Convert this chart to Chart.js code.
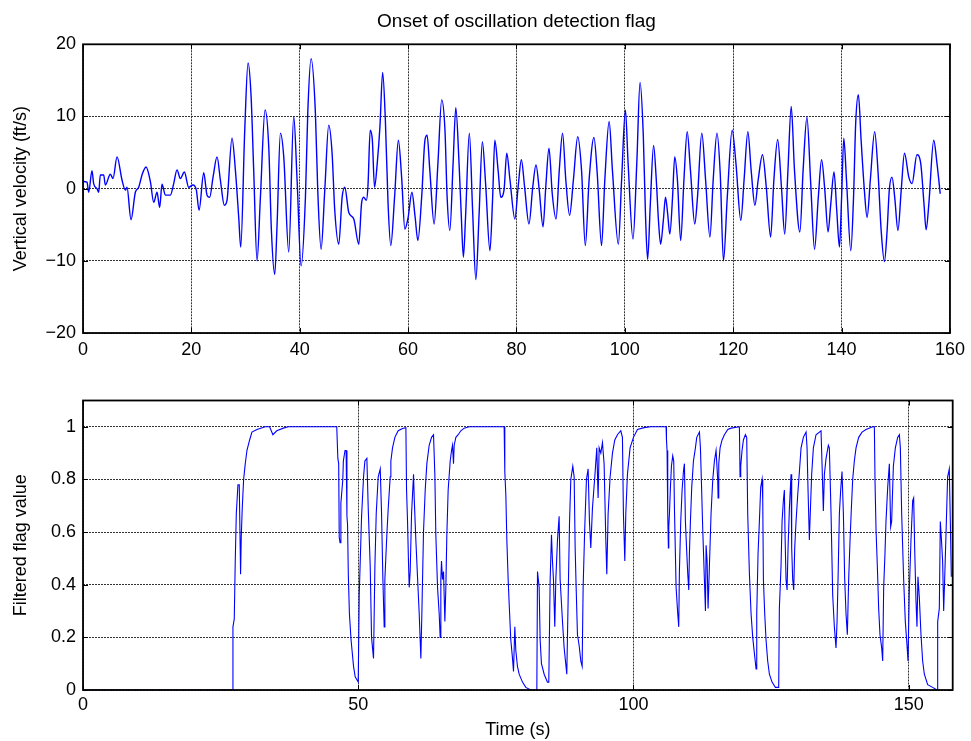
<!DOCTYPE html>
<html><head><meta charset="utf-8">
<script src="https://cdn.jsdelivr.net/npm/chart.js@4.4.0/dist/chart.umd.min.js"></script>
<style>
html,body{margin:0;padding:0;background:#fff;}
#wrap{position:relative;width:971px;height:741px;overflow:hidden;background:#fff;}
canvas{position:absolute;left:0;}
#c1{top:0;} #c2{top:370px;}
</style></head><body>
<div id="wrap"><canvas id="c1" width="971" height="370"></canvas><canvas id="c2" width="971" height="371"></canvas></div>
<script>
// ---------- data ----------
const chartTitle = 'Onset of oscillation detection flag';
const velocityAxisTitle = 'Vertical velocity (ft/s)';
const flagAxisTitle = 'Filtered flag value';
const timeAxisTitle = 'Time (s)';

const velXTicks = [0, 20, 40, 60, 80, 100, 120, 140, 160];
const velYTicks = [-20, -10, 0, 10, 20];
const velYLabels = ['\u221220', '\u221210', '0', '10', '20'];
const flagXTicks = [0, 50, 100, 150];
const flagYTicks = [0, 0.2, 0.4, 0.6, 0.8, 1];
const flagYLabels = ['0', '0.2', '0.4', '0.6', '0.8', '1'];

// [time (s), vertical velocity (ft/s)]
const velocitySamples = [[0,1.0],[0.74,0.9],[1.05,-0.5],[1.66,2.5],[1.97,0.7],[2.58,0.0],[2.89,-0.5],[3.2,1.9],[3.82,1.9],[4.12,0.5],[5.05,2.0],[5.54,1.4],[6.28,4.4],[7.2,1.2],[7.82,-0.2],[8.12,0.2],[8.86,-4.3],[9.66,-0.5],[10.28,0.2],[10.89,1.9],[11.63,3.0],[12.43,1.0],[13.05,-1.9],[13.66,-0.5],[14.15,-2.6],[14.58,0.6],[15.2,-0.9],[16.12,-0.9],[16.74,0.7],[17.35,2.6],[17.97,1.4],[18.71,2.3],[19.5,0.2],[20.3,0.5],[20.92,-0.2],[21.42,-3.0],[22.28,2.2],[22.89,-0.9],[23.38,-1.2],[24.0,1.6],[24.74,4.4],[25.35,1.2],[26.09,-2.3],[26.58,-1.6],[27.5,7.0],[28.12,2.6],[28.74,-4.0],[29.11,-8.1],[29.85,8.1],[30.46,17.4],[31.02,12.8],[31.5,2.6],[32.12,-10.0],[32.74,-1.2],[33.6,10.9],[34.28,5.8],[34.77,-5.8],[35.38,-11.9],[35.82,-4.9],[36.43,7.7],[37.05,4.4],[37.97,-8.8],[38.89,10.0],[39.51,1.2],[40.25,-10.7],[41.05,-1.2],[41.48,10.5],[42.09,18.0],[42.89,10.5],[43.32,-0.2],[43.94,-8.4],[44.62,-0.2],[45.35,8.8],[45.97,4.9],[46.46,-3.0],[47.2,-7.7],[47.82,-1.2],[48.31,0.2],[49.05,-3.3],[49.97,-4.2],[50.89,-7.7],[51.4,-2.1],[51.8,-1.2],[52.3,-1.6],[52.6,0.5],[53.0,8.1],[53.4,6.7],[53.8,0.2],[54.3,3.5],[54.8,8.6],[55.3,16.1],[55.8,9.5],[56.3,-2.1],[56.8,-7.9],[57.5,-1.2],[58.2,6.7],[58.8,1.6],[59.4,-5.6],[60.0,-4.0],[60.7,-0.5],[61.3,-4.0],[61.8,-7.2],[62.5,-1.2],[63.1,6.7],[63.5,7.4],[64.0,2.6],[64.8,-4.9],[65.5,3.5],[66.2,12.3],[66.8,8.1],[67.2,-1.2],[67.7,-5.8],[68.3,3.5],[68.8,11.2],[69.4,3.5],[69.8,-3.5],[70.2,-9.5],[70.6,-3.9],[71.3,7.7],[71.9,-3.0],[72.5,-12.6],[73.1,-3.5],[73.7,6.5],[74.3,0.7],[75.1,-8.6],[75.6,-1.2],[76.0,6.7],[76.6,2.6],[77.1,-1.2],[77.7,-0.2],[78.2,4.9],[78.8,1.2],[79.7,-4.2],[80.3,0.2],[80.9,4.0],[81.5,0.2],[82.3,-4.9],[83.0,0.2],[83.6,3.3],[84.2,-0.2],[84.9,-5.3],[85.4,0.2],[86.0,5.6],[86.6,-0.7],[87.3,-4.2],[87.9,2.6],[88.5,7.7],[89.1,1.2],[89.8,-3.7],[90.5,1.2],[91.3,7.2],[92.0,2.6],[92.7,-7.9],[93.4,1.2],[94.3,7.1],[94.9,2.1],[95.7,-7.9],[96.3,1.2],[97.1,9.3],[97.7,2.6],[98.8,-7.7],[99.4,1.2],[100.1,10.9],[100.6,3.5],[101.5,-7.0],[102.2,3.5],[102.8,14.7],[103.4,7.4],[103.8,-3.5],[104.2,-9.8],[104.7,-2.1],[105.3,6.0],[105.8,1.2],[106.2,-4.4],[106.6,-7.7],[107.1,-4.4],[107.5,-1.2],[107.9,-3.5],[108.3,-6.3],[108.8,-1.2],[109.2,4.4],[109.7,1.2],[110.3,-7.2],[110.9,1.2],[111.5,7.9],[112.1,2.6],[112.9,-4.9],[113.4,-1.2],[114.2,7.7],[114.9,1.2],[115.7,-6.7],[116.3,1.2],[117.0,7.7],[117.6,2.1],[118.2,-10.0],[118.9,-1.2],[119.8,8.1],[120.5,3.5],[121.4,-4.4],[122.0,1.2],[122.7,7.9],[123.3,2.6],[124.0,-2.3],[124.6,1.2],[125.4,4.7],[126.1,0.2],[126.9,-6.7],[127.5,1.2],[128.2,6.8],[128.9,0.2],[129.5,-6.3],[130.1,2.6],[130.7,11.4],[131.3,2.6],[132.3,-6.0],[132.9,2.6],[133.6,9.9],[134.3,0.7],[135.0,-8.4],[135.7,-1.2],[136.3,4.0],[136.9,-0.2],[137.5,-6.0],[138.0,-2.1],[138.6,2.3],[139.1,-3.0],[139.6,-8.1],[140.0,-1.2],[140.4,7.0],[140.9,1.2],[141.7,-8.6],[142.2,-1.2],[142.6,9.1],[143.1,13.0],[143.6,6.7],[144.2,-0.2],[144.7,-4.0],[145.3,1.2],[146.1,7.9],[146.7,2.6],[147.3,-5.8],[147.9,-10.1],[148.4,-5.8],[148.8,-0.2],[149.3,1.6],[149.8,-1.2],[150.4,-5.8],[151.0,-0.2],[151.6,4.9],[152.4,1.6],[153.0,0.7],[153.9,4.7],[154.6,3.5],[155.2,-2.1],[155.6,-5.7],[156.1,-2.1],[157.0,6.7],[157.6,3.5],[158.2,-0.7]];

// [time (s), filtered flag value]
const flagSamples = [[0,0],[27.2,0],[27.24,0.24],[27.48,0.27],[27.66,0.49],[27.85,0.67],[28.15,0.78],[28.39,0.78],[28.55,0.55],[28.63,0.44],[28.75,0.58],[28.93,0.69],[29.18,0.8],[29.48,0.86],[29.78,0.91],[30.27,0.95],[30.69,0.98],[31.6,0.99],[33.1,1.0],[33.9,1.0],[34.5,0.97],[35.2,0.985],[36.4,0.995],[37.3,1.0],[46.1,1.0],[46.3,0.88],[46.45,0.86],[46.55,0.58],[46.7,0.56],[46.85,0.71],[47.2,0.8],[47.3,0.87],[47.6,0.91],[47.8,0.91],[47.95,0.66],[48.06,0.63],[48.2,0.44],[48.4,0.29],[48.7,0.19],[49.15,0.09],[49.45,0.05],[50.0,0.03],[50.18,0.36],[50.61,0.66],[50.97,0.81],[51.21,0.87],[51.57,0.88],[51.82,0.69],[52.18,0.47],[52.42,0.2],[52.78,0.12],[53.03,0.47],[53.27,0.67],[53.63,0.81],[54.0,0.84],[54.24,0.67],[54.48,0.42],[54.72,0.24],[54.84,0.42],[55.2,0.59],[55.45,0.69],[55.81,0.81],[55.93,0.87],[56.23,0.92],[56.66,0.96],[57.26,0.985],[58.05,0.994],[58.66,0.997],[58.78,0.76],[58.96,0.64],[59.14,0.48],[59.26,0.39],[59.44,0.45],[59.69,0.67],[60.05,0.82],[60.17,0.73],[60.47,0.57],[60.77,0.43],[61.08,0.29],[61.38,0.12],[61.56,0.29],[61.86,0.6],[62.17,0.76],[62.47,0.86],[62.89,0.93],[63.32,0.96],[63.68,0.97],[63.92,0.82],[64.1,0.59],[64.41,0.39],[64.71,0.29],[64.89,0.2],[65.01,0.42],[65.13,0.49],[65.31,0.42],[65.5,0.45],[65.74,0.26],[65.92,0.39],[66.1,0.59],[66.34,0.76],[66.71,0.87],[66.95,0.91],[67.13,0.93],[67.31,0.86],[67.43,0.93],[67.74,0.96],[68.16,0.97],[68.64,0.985],[69.25,0.995],[70.16,1.0],[76.51,1.0],[76.63,0.83],[76.82,0.74],[77.0,0.57],[77.24,0.42],[77.42,0.33],[77.72,0.19],[78.03,0.12],[78.21,0.07],[78.45,0.24],[78.63,0.15],[78.93,0.09],[79.24,0.06],[79.84,0.03],[80.45,0.01],[81.36,0.0],[82.45,0.0],[82.57,0.45],[82.87,0.39],[83.05,0.19],[83.29,0.1],[83.78,0.06],[84.38,0.03],[84.62,0.03],[84.87,0.42],[85.11,0.59],[85.29,0.49],[85.47,0.42],[85.71,0.24],[85.9,0.42],[86.2,0.57],[86.5,0.66],[86.68,0.42],[87.11,0.26],[87.41,0.16],[87.89,0.06],[88.14,0.35],[88.38,0.63],[88.62,0.8],[88.98,0.85],[89.23,0.81],[89.41,0.54],[89.59,0.39],[89.83,0.21],[90.13,0.17],[90.44,0.11],[90.68,0.09],[90.86,0.39],[91.16,0.62],[91.46,0.8],[91.77,0.84],[92.01,0.64],[92.25,0.54],[92.55,0.69],[92.98,0.81],[93.34,0.92],[93.58,0.73],[93.77,0.92],[94.07,0.9],[94.37,0.94],[94.67,0.86],[94.98,0.57],[95.16,0.44],[95.4,0.67],[95.76,0.81],[96.19,0.9],[96.61,0.95],[97.09,0.97],[97.7,0.985],[98.0,0.96],[98.18,0.67],[98.43,0.49],[98.61,0.67],[98.91,0.82],[99.39,0.92],[100.0,0.96],[100.73,0.99],[101.94,0.997],[103.15,1.0],[105.93,1.0],[106.0,0.95],[106.11,0.91],[106.23,0.67],[106.35,0.54],[106.42,0.62],[106.54,0.67],[106.72,0.77],[106.9,0.85],[107.14,0.89],[107.32,0.87],[107.45,0.69],[107.75,0.39],[108.05,0.29],[108.23,0.24],[108.35,0.45],[108.59,0.64],[108.84,0.76],[109.08,0.83],[109.26,0.86],[109.44,0.64],[109.69,0.52],[109.87,0.44],[110.05,0.38],[110.17,0.52],[110.35,0.64],[110.59,0.77],[110.9,0.87],[111.26,0.92],[111.5,0.96],[111.99,0.98],[112.17,0.92],[112.35,0.79],[112.59,0.61],[112.89,0.42],[113.08,0.3],[113.2,0.55],[113.38,0.49],[113.56,0.31],[113.8,0.47],[114.1,0.67],[114.41,0.8],[114.71,0.87],[115.01,0.91],[115.31,0.8],[115.38,0.73],[115.5,0.86],[115.74,0.92],[116.1,0.95],[116.53,0.97],[117.13,0.99],[117.74,0.995],[119.25,1.0],[119.37,0.81],[119.49,0.85],[119.73,0.91],[119.98,0.95],[120.34,0.97],[120.58,0.96],[120.76,0.67],[121.07,0.44],[121.37,0.29],[121.67,0.2],[121.97,0.14],[122.28,0.08],[122.4,0.29],[122.64,0.52],[122.88,0.64],[123.12,0.77],[123.37,0.8],[123.49,0.72],[123.61,0.42],[123.85,0.29],[124.09,0.19],[124.39,0.11],[124.7,0.06],[125.18,0.03],[125.79,0.01],[126.39,0.01],[126.51,0.31],[126.81,0.47],[127.0,0.64],[127.24,0.72],[127.42,0.76],[127.54,0.59],[127.72,0.42],[127.91,0.38],[128.09,0.54],[128.33,0.69],[128.63,0.82],[128.75,0.54],[128.93,0.42],[129.12,0.38],[129.3,0.54],[129.54,0.64],[129.84,0.74],[130.15,0.83],[130.45,0.92],[130.87,0.96],[131.36,0.98],[131.54,0.92],[131.72,0.76],[131.96,0.57],[132.14,0.68],[132.38,0.82],[132.69,0.92],[133.17,0.97],[134.08,0.985],[134.26,0.86],[134.5,0.68],[134.69,0.82],[134.99,0.88],[135.41,0.93],[135.59,0.92],[135.9,0.67],[136.2,0.36],[136.5,0.24],[136.8,0.16],[136.99,0.26],[137.17,0.42],[137.41,0.67],[137.65,0.76],[137.89,0.83],[138.14,0.67],[138.38,0.42],[138.62,0.29],[138.86,0.21],[139.1,0.42],[139.35,0.57],[139.59,0.69],[139.83,0.8],[140.13,0.87],[140.44,0.92],[140.92,0.96],[141.53,0.98],[142.25,0.99],[143.46,1.0],[143.77,1.0],[143.89,0.79],[144.07,0.61],[144.31,0.47],[144.55,0.31],[144.79,0.21],[145.1,0.16],[145.28,0.11],[145.46,0.39],[145.7,0.52],[145.88,0.64],[146.19,0.77],[146.49,0.86],[146.73,0.62],[146.91,0.64],[147.22,0.85],[147.58,0.92],[148.0,0.96],[148.31,0.97],[148.49,0.92],[148.73,0.67],[149.09,0.42],[149.39,0.26],[149.7,0.17],[149.88,0.11],[150.12,0.38],[150.42,0.57],[150.73,0.72],[150.91,0.73],[151.09,0.54],[151.33,0.34],[151.51,0.24],[151.69,0.43],[151.94,0.35],[152.24,0.21],[152.54,0.11],[152.85,0.06],[153.45,0.02],[154.36,0.01],[155.15,0.0],[155.27,0.26],[155.57,0.31],[155.75,0.64],[155.93,0.58],[156.17,0.49],[156.36,0.3],[156.54,0.42],[156.78,0.59],[157.08,0.81],[157.38,0.84],[157.57,0.64],[157.75,0.43]];

// ---------- styling / chart setup ----------
const FONT = "'Liberation Sans', Arial, Helvetica, sans-serif";
Chart.defaults.font.family = FONT;
Chart.defaults.font.size = 18;
Chart.defaults.color = '#000';

const GRID_COLOR = '#333';
const GRID_DASH = [2, 1];

const boxAndTicks = {
  id: 'boxAndTicks',
  afterDraw(chart) {
    const {ctx, chartArea: a, scales: {x, y}} = chart;
    ctx.save();
    ctx.strokeStyle = '#000';
    ctx.lineWidth = 1;
    const L = 5;
    ctx.beginPath();
    x.ticks.forEach(t => {
      const px = Math.round(x.getPixelForValue(t.value)) + 0.5;
      ctx.moveTo(px, a.bottom); ctx.lineTo(px, a.bottom - L);
      ctx.moveTo(px, a.top); ctx.lineTo(px, a.top + L);
    });
    y.ticks.forEach(t => {
      const py = Math.round(y.getPixelForValue(t.value)) + 0.5;
      ctx.moveTo(a.left, py); ctx.lineTo(a.left + L, py);
      ctx.moveTo(a.right, py); ctx.lineTo(a.right - L, py);
    });
    ctx.stroke();
    ctx.lineWidth = 1.8;
    ctx.strokeRect(a.left, a.top, a.right - a.left, a.bottom - a.top);
    ctx.restore();
  }
};

function toPoints(samples) { return samples.map(s => ({x: s[0], y: s[1]})); }
function setTicks(values) { return scale => { scale.ticks = values.map(v => ({value: v})); }; }

function makeChart(canvas, cfg) {
  return new Chart(canvas, {
    type: 'line',
    data: {datasets: [{
      data: toPoints(cfg.samples),
      borderColor: '#0000ff',
      borderWidth: cfg.lineWidth,
      pointRadius: 0,
      tension: 0,
      cubicInterpolationMode: cfg.curve,
      fill: false
    }]},
    options: {
      responsive: false,
      animation: false,
      devicePixelRatio: 1,
      parsing: false,
      layout: {padding: cfg.padding},
      plugins: {
        legend: {display: false},
        tooltip: {enabled: false},
        title: cfg.title ? {
          display: true, text: cfg.title, color: '#000', fullSize: false,
          font: {size: 19, weight: 'normal', family: FONT},
          padding: {top: 10, bottom: 11.5}
        } : {display: false}
      },
      scales: {
        x: {
          type: 'linear', min: cfg.xMin, max: cfg.xMax,
          afterBuildTicks: setTicks(cfg.xTicks),
          afterFit: s => { s.height = cfg.xAxisHeight; },
          ticks: {autoSkip: false, maxRotation: 0, padding: cfg.xTickPad, color: '#000',
                  font: {size: 18}, callback: v => String(v)},
          grid: {color: GRID_COLOR, lineWidth: 1, drawTicks: false},
          border: {display: false, dash: GRID_DASH},
          title: cfg.xTitle ? {display: true, text: cfg.xTitle, color: '#000',
                  font: {size: 18}, padding: {top: 0, bottom: 0}} : {display: false}
        },
        y: {
          type: 'linear', min: cfg.yMin, max: cfg.yMax,
          afterBuildTicks: setTicks(cfg.yTicks),
          afterFit: s => { s.width = 83; },
          ticks: {autoSkip: false, padding: 7, color: '#000', font: {size: 18},
                  callback: v => cfg.yLabels[cfg.yTicks.indexOf(v)] ?? String(v)},
          grid: {color: GRID_COLOR, lineWidth: 1, drawTicks: false},
          border: {display: false, dash: GRID_DASH},
          title: {display: true, text: cfg.yTitle, color: '#000', font: {size: 18},
                  padding: {top: 10, bottom: 0}}
        }
      }
    },
    plugins: [boxAndTicks]
  });
}

makeChart(document.getElementById('c1'), {
  samples: velocitySamples, lineWidth: 1.4, curve: 'monotone',
  padding: {left: 0, right: 20, top: 0, bottom: 0},
  title: chartTitle,
  xMin: 0, xMax: 160, xTicks: velXTicks, xAxisHeight: 37, xTickPad: 6, xTitle: null,
  yMin: -20, yMax: 20, yTicks: velYTicks, yLabels: velYLabels, yTitle: velocityAxisTitle
});

makeChart(document.getElementById('c2'), {
  samples: flagSamples, lineWidth: 1.1, curve: 'default',
  padding: {left: 0, right: 18.3, top: 30.5, bottom: 0},
  title: null,
  xMin: 0, xMax: 158, xTicks: flagXTicks, xAxisHeight: 51, xTickPad: 4, xTitle: timeAxisTitle,
  yMin: 0, yMax: 1.1, yTicks: flagYTicks, yLabels: flagYLabels, yTitle: flagAxisTitle
});
</script>
</body></html>
